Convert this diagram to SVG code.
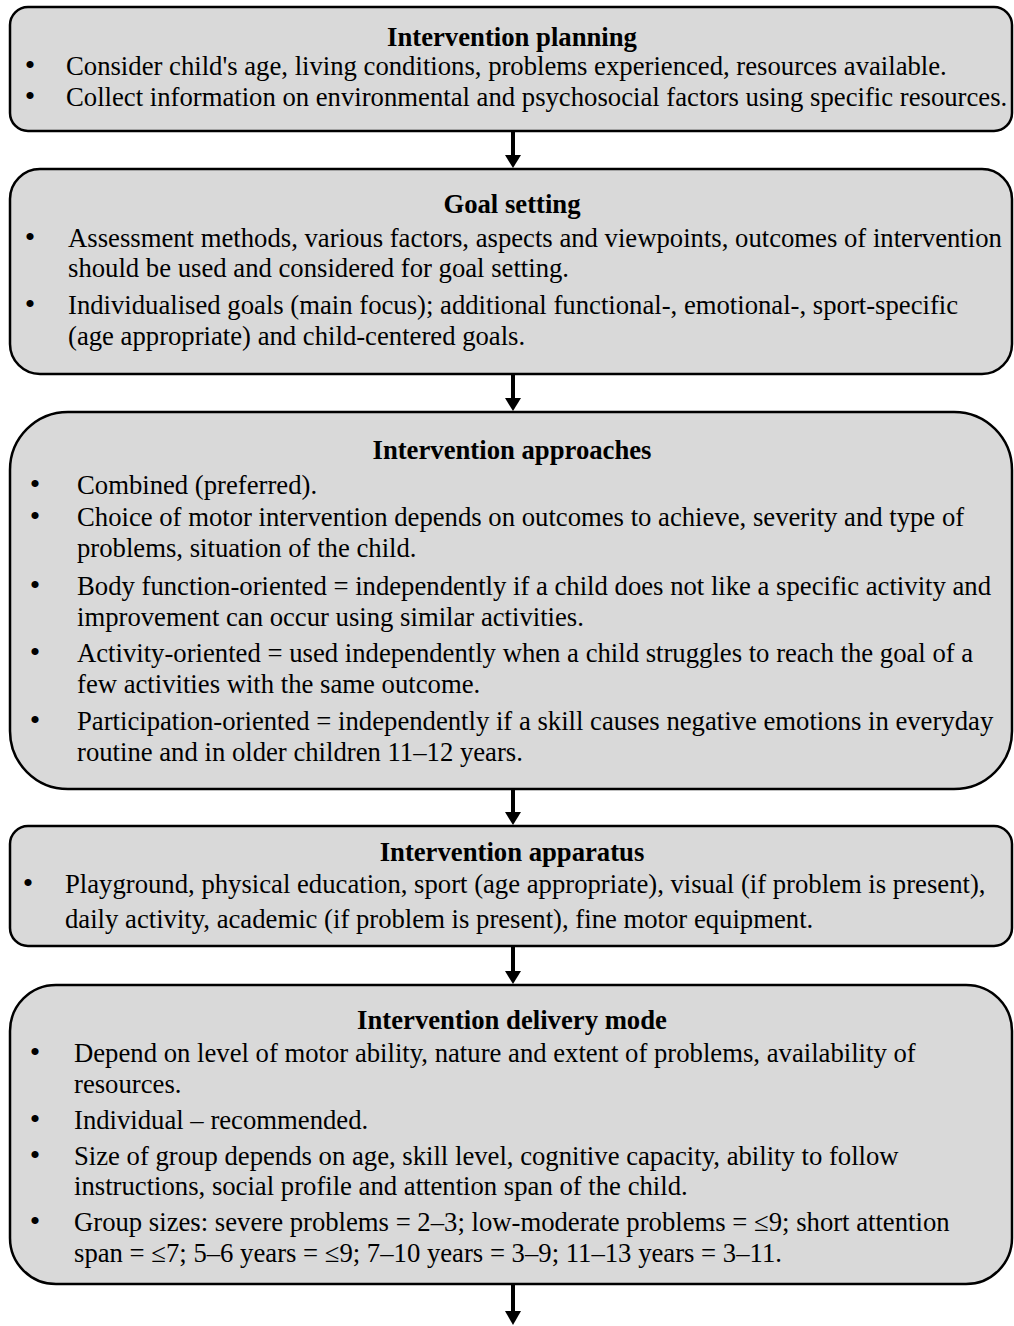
<svg xmlns="http://www.w3.org/2000/svg" width="1014" height="1326" viewBox="0 0 1014 1326">
<defs>
<style>
.box{fill:#d9d9d9;stroke:#000;stroke-width:2.5}
text{font-family:"Liberation Serif","Times New Roman",serif;font-size:26.7px;fill:#000}
.t{font-weight:bold;text-anchor:middle}
.b{text-anchor:middle;font-size:30px}
.c{stroke:#000;stroke-width:4;fill:none}
.h{fill:#000;stroke:none}
</style>
</defs>
<rect width="1014" height="1326" fill="#fff"/>
<g id="connectors">
<line class="c" x1="513" y1="131" x2="513" y2="155"/><path class="h" d="M505,155 L521,155 L513,168 Z"/>
<line class="c" x1="513" y1="374" x2="513" y2="398"/><path class="h" d="M505,398 L521,398 L513,411 Z"/>
<line class="c" x1="513" y1="789" x2="513" y2="813"/><path class="h" d="M505,812 L521,812 L513,825 Z"/>
<line class="c" x1="513" y1="946" x2="513" y2="971"/><path class="h" d="M505,971 L521,971 L513,984 Z"/>
<line class="c" x1="513" y1="1284" x2="513" y2="1312"/><path class="h" d="M505,1311 L521,1311 L513,1325 Z"/>
</g>
<g id="n1">
<rect class="box" x="10" y="7" width="1002" height="124" rx="18"/>
<text class="t" x="512" y="46">Intervention planning</text>
<text class="b" x="30" y="75">•</text><text x="66" y="75">Consider child's age, living conditions, problems experienced, resources available.</text>
<text class="b" x="30" y="106">•</text><text x="66" y="106">Collect information on environmental and psychosocial factors using specific resources.</text>
</g>
<g id="n2">
<rect class="box" x="10" y="169" width="1002" height="205" rx="30"/>
<text class="t" x="512" y="213">Goal setting</text>
<text class="b" x="30" y="247">•</text><text x="68" y="247">Assessment methods, various factors, aspects and viewpoints, outcomes of intervention</text>
<text x="68" y="277">should be used and considered for goal setting.</text>
<text class="b" x="30" y="314">•</text><text x="68" y="314">Individualised goals (main focus); additional functional-, emotional-, sport-specific</text>
<text x="68" y="345">(age appropriate) and child-centered goals.</text>
</g>
<g id="n3">
<rect class="box" x="10" y="412" width="1002" height="377" rx="58"/>
<text class="t" x="512" y="459">Intervention approaches</text>
<text class="b" x="35" y="494">•</text><text x="77" y="494">Combined (preferred).</text>
<text class="b" x="35" y="526">•</text><text x="77" y="526">Choice of motor intervention depends on outcomes to achieve, severity and type of</text>
<text x="77" y="557">problems, situation of the child.</text>
<text class="b" x="35" y="595">•</text><text x="77" y="595">Body function-oriented = independently if a child does not like a specific activity and</text>
<text x="77" y="626">improvement can occur using similar activities.</text>
<text class="b" x="35" y="662">•</text><text x="77" y="662">Activity-oriented = used independently when a child struggles to reach the goal of a</text>
<text x="77" y="693">few activities with the same outcome.</text>
<text class="b" x="35" y="730">•</text><text x="77" y="730">Participation-oriented = independently if a skill causes negative emotions in everyday</text>
<text x="77" y="761">routine and in older children 11–12 years.</text>
</g>
<g id="n4">
<rect class="box" x="10" y="826" width="1002" height="120" rx="18"/>
<text class="t" x="512" y="861">Intervention apparatus</text>
<text class="b" x="28" y="893">•</text><text x="65" y="893">Playground, physical education, sport (age appropriate), visual (if problem is present),</text>
<text x="65" y="928">daily activity, academic (if problem is present), fine motor equipment.</text>
</g>
<g id="n5">
<rect class="box" x="10" y="985" width="1002" height="299" rx="46"/>
<text class="t" x="512" y="1029">Intervention delivery mode</text>
<text class="b" x="35" y="1062">•</text><text x="74" y="1062">Depend on level of motor ability, nature and extent of problems, availability of</text>
<text x="74" y="1093">resources.</text>
<text class="b" x="35" y="1129">•</text><text x="74" y="1129">Individual – recommended.</text>
<text class="b" x="35" y="1165">•</text><text x="74" y="1165">Size of group depends on age, skill level, cognitive capacity, ability to follow</text>
<text x="74" y="1195">instructions, social profile and attention span of the child.</text>
<text class="b" x="35" y="1231">•</text><text x="74" y="1231">Group sizes: severe problems = 2–3; low-moderate problems = ≤9; short attention</text>
<text x="74" y="1262">span = ≤7; 5–6 years = ≤9; 7–10 years = 3–9; 11–13 years = 3–11.</text>
</g>
</svg>
